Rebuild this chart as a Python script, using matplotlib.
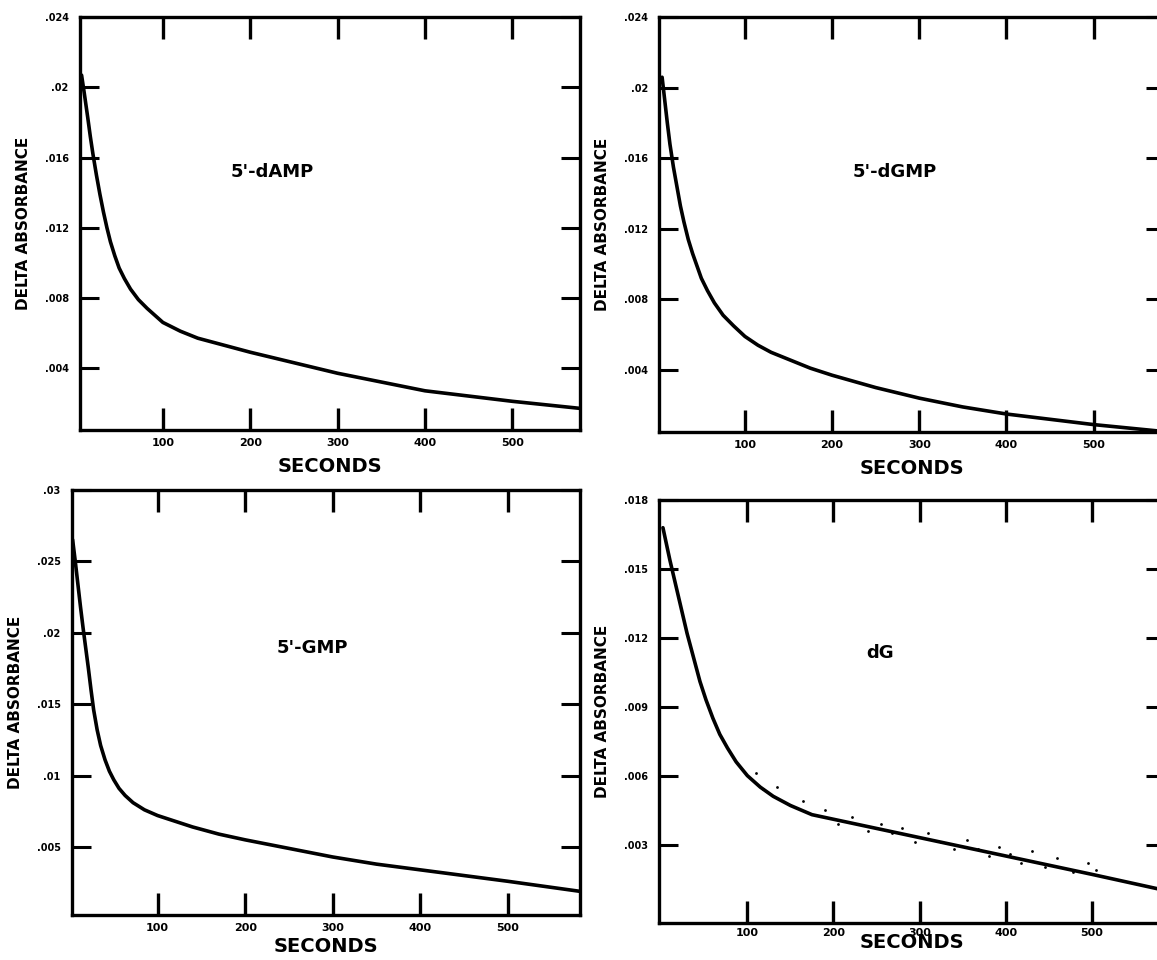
import numpy as np
import matplotlib
matplotlib.use("Agg")
import matplotlib.pyplot as plt

plt.rcParams['font.family'] = ['DejaVu Sans']
plt.rcParams['font.weight'] = 'bold'

# kinetic traces, time in seconds vs delta absorbance
damp_t = [7, 10, 14, 17, 20, 24, 28, 32, 36, 40, 45, 50, 56, 63, 72, 82, 100, 120, 140, 170, 200,
          250, 300, 350, 400, 450, 500, 577]
damp_a = [.0207, .0197, .0183, .0172, .0162, .0150, .0139, .0129, .0120, .0112, .0104, .0097, .0091,
          .0085, .0079, .0074, .0066, .0061, .0057, .0053, .0049, .0043, .0037, .0032, .0027, .0024,
          .0021, .0017]

dgmp_t = [5, 8, 11, 14, 18, 22, 26, 30, 35, 40, 45, 50, 57, 65, 75, 87, 100, 115, 130, 150, 175,
          200, 250, 300, 350, 400, 450, 500, 582]
dgmp_a = [.0206, .0193, .0180, .0168, .0155, .0144, .0133, .0124, .0114, .0106, .0099, .0092, .0085,
          .0078, .0071, .0065, .0059, .0054, .0050, .0046, .0041, .0037, .0030, .0024, .0019, .0015,
          .0012, .0009, .0005]

gmp_t = [3, 6, 9, 12, 15, 18, 21, 24, 27, 31, 35, 40, 45, 50, 56, 63, 72, 85, 100, 120, 140, 170,
         200, 250, 300, 350, 400, 450, 500, 582]
gmp_a = [.0265, .0250, .0234, .0218, .0203, .0189, .0175, .0160, .0146, .0132, .0121, .0111, .0103,
         .0097, .0091, .0086, .0081, .0076, .0072, .0068, .0064, .0059, .0055, .0049, .0043, .0038,
         .0034, .0030, .0026, .0019]

dg_t = [2, 6, 10, 15, 20, 25, 30, 35, 40, 45, 52, 60, 68, 77, 87, 100, 115, 130, 150, 175, 200,
        250, 300, 350, 400, 450, 500, 585]
dg_a = [.0168, .0161, .0154, .0146, .0138, .0130, .0122, .0115, .0108, .0101, .0093, .0085, .0078,
        .0072, .0066, .0060, .0055, .0051, .0047, .0043, .0041, .0037, .0033, .0029, .0025, .0021,
        .0017, .0010]

# scattered readings around the dG trace
dg_pts_t = [110, 118, 135, 150, 165, 178, 190, 205, 222, 240, 255, 268, 280, 295, 310, 325, 340,
            355, 368, 380, 392, 405, 418, 430, 445, 460, 478, 495, 505]
dg_pts_a = [.0061, .0054, .0055, .0047, .0049, .0043, .0045, .0039, .0042, .0036, .0039, .0035, .0037,
            .0031, .0035, .0031, .0028, .0032, .0028, .0025, .0029, .0026, .0022, .0027, .0020, .0024,
            .0018, .0022, .0019]

x_ticks = [100, 200, 300, 400, 500]

panels = [
    dict(t=damp_t, a=damp_a, name="5'-dAMP", pos=[0.069, 0.552, 0.432, 0.430],
         xlim=(5, 577), ylim=(0.00046, 0.024), yticks=[.004, .008, .012, .016, .02, .024],
         ylabels=['.004', '.008', '.012', '.016', '.02', '.024'], tpos=(0.384, 0.625),
         tpad=6, lpad=6),
    dict(t=dgmp_t, a=dgmp_a, name="5'-dGMP", pos=[0.570, 0.550, 0.437, 0.432],
         xlim=(2, 582), ylim=(0.00048, 0.024), yticks=[.004, .008, .012, .016, .02, .024],
         ylabels=['.004', '.008', '.012', '.016', '.02', '.024'], tpos=(0.465, 0.627),
         tpad=6, lpad=6),
    dict(t=gmp_t, a=gmp_a, name="5'-GMP", pos=[0.062, 0.047, 0.439, 0.443],
         xlim=(2, 582), ylim=(0.00025, 0.030), yticks=[.005, .01, .015, .02, .025, .03],
         ylabels=['.005', '.01', '.015', '.02', '.025', '.03'], tpos=(0.474, 0.628),
         tpad=6, lpad=3),
    dict(t=dg_t, a=dg_a, name="dG", pos=[0.570, 0.039, 0.437, 0.440],
         xlim=(-2, 585), ylim=(-0.0004, 0.018), yticks=[.003, .006, .009, .012, .015, .018],
         ylabels=['.003', '.006', '.009', '.012', '.015', '.018'], tpos=(0.436, 0.638),
         tpad=4, lpad=-4),
]

fig = plt.figure(figsize=(11.57, 9.6), dpi=100)

for i, p in enumerate(panels):
    ax = fig.add_axes(p['pos'])
    ax.plot(p['t'], p['a'], color='black', lw=2.6, solid_joinstyle='round', solid_capstyle='round')
    if i == 3:
        ax.scatter(dg_pts_t, dg_pts_a, s=4, color='black', lw=0)
    ax.set_xlim(*p['xlim'])
    ax.set_ylim(*p['ylim'])
    ax.set_xticks(x_ticks)
    ax.set_xticklabels([str(v) for v in x_ticks], fontsize=8, fontweight='heavy')
    ax.set_yticks(p['yticks'])
    ax.set_yticklabels(p['ylabels'], fontsize=7, fontweight='heavy')
    ax.tick_params(axis='x', direction='in', length=16, width=2.4, top=True, pad=p['tpad'])
    ax.tick_params(axis='y', direction='in', length=14, width=2.2, right=True, pad=8)
    for s in ax.spines.values():
        s.set_linewidth(2.4)
    ax.set_xlabel('SECONDS', fontsize=14, fontweight='heavy', labelpad=p['lpad'])
    ax.set_ylabel('DELTA ABSORBANCE', fontsize=11, fontweight='heavy', labelpad=10)
    ax.text(p['tpos'][0], p['tpos'][1], p['name'], transform=ax.transAxes,
            ha='center', va='center', fontsize=13, fontweight='heavy')

fig.savefig('out.png', dpi=100)
